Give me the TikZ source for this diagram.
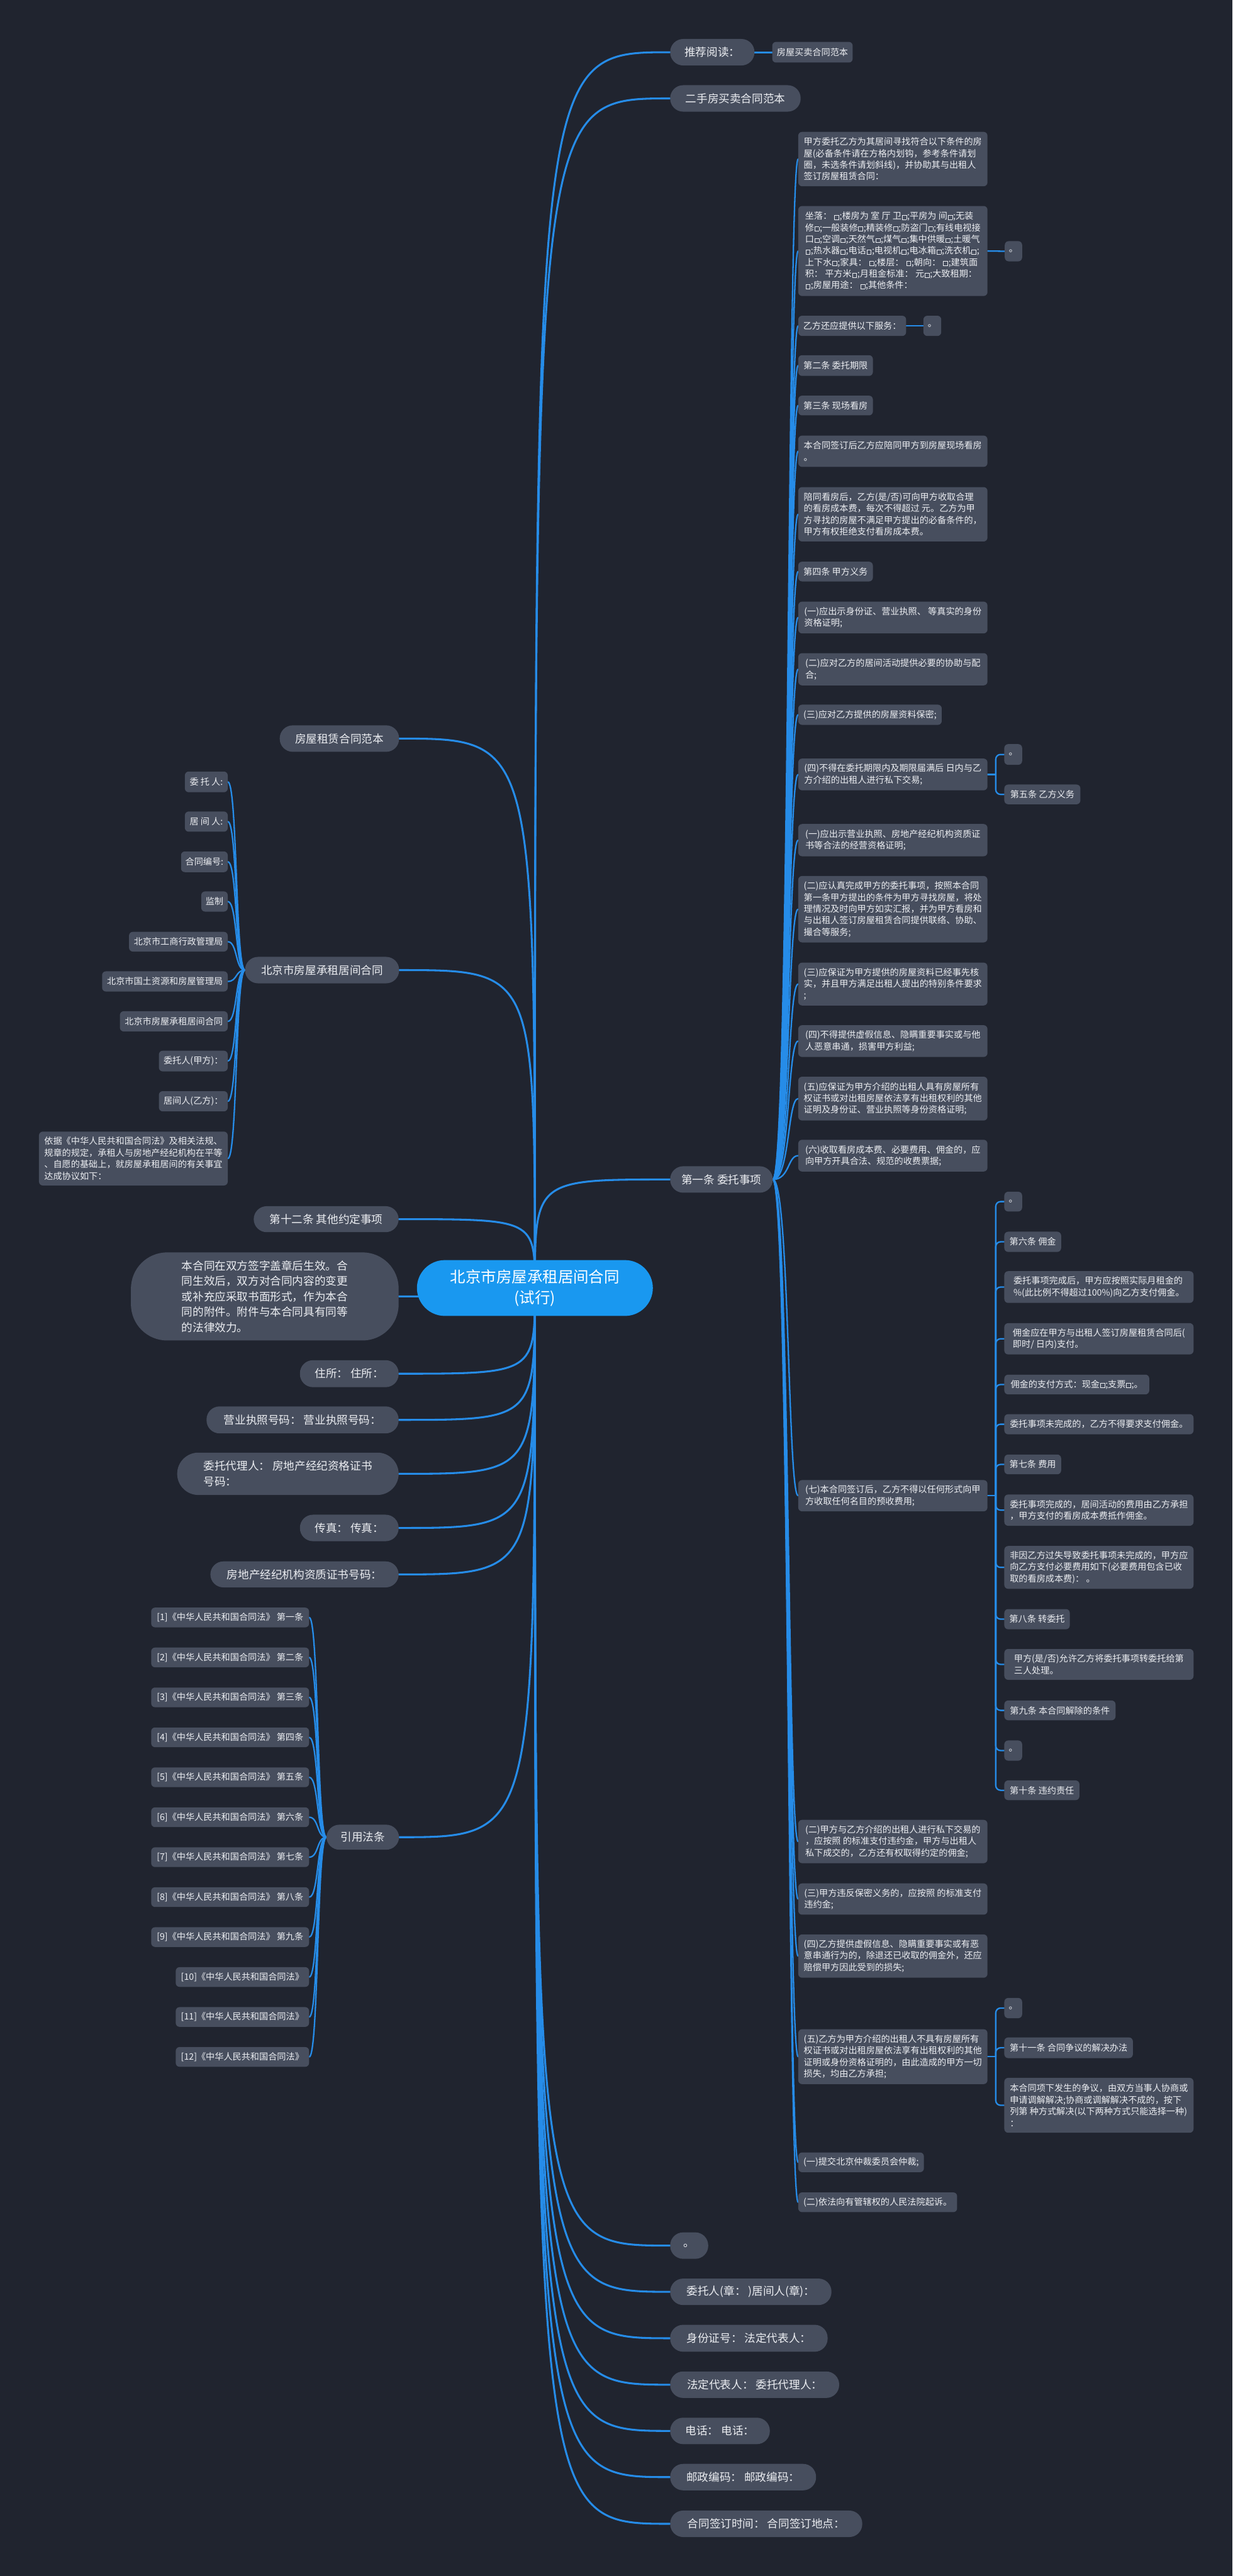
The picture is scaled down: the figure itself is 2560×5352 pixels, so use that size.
\documentclass[tikz,border=0pt]{standalone}
\usepackage{fontspec}
\setmainfont{Noto Sans CJK SC}
\usetikzlibrary{calc}
\definecolor{bgc}{RGB}{32,36,47}
\definecolor{nodefill}{RGB}{71,78,94}
\definecolor{lineblue}{RGB}{38,140,232}
\definecolor{rootblue}{RGB}{25,152,240}
\definecolor{txt}{RGB}{236,238,242}
\pgfdeclarelayer{back}\pgfdeclarelayer{edges}\pgfsetlayers{back,edges,main}
\newcommand\wsq{\kern1pt{\fboxsep=0pt\fboxrule=1pt\fbox{\rule{0pt}{8pt}\hspace{8pt}}}\kern1pt}
\newcommand\bn[7]{\node[#1,minimum width={#5-#3},minimum height={#6-#4}] (#2) at ({(#3+#5)/2},{(#4+#6)/2}) {#7};}
\tikzset{
 sm/.style={fill=nodefill,rounded corners=8pt,text=txt,font=\fontsize{18.5}{24}\selectfont,align=left,inner sep=0pt},
 pill/.style={fill=nodefill,rounded corners=27pt,text=txt,font=\fontsize{23}{32}\selectfont,align=left,inner sep=0pt},
 rootn/.style={fill=rootblue,rounded corners=58pt,text=white,font=\fontsize{32}{43}\selectfont,align=center,inner sep=0pt},
 edge/.style={draw=lineblue,line width=4pt,line cap=round},
 edgeb/.style={draw=lineblue,line width=3pt,line cap=round}
}
\begin{document}
\begin{tikzpicture}[x=1pt,y=-1pt]
\begin{pgfonlayer}{back}
\fill[bgc] (0,0) rectangle (2560,5352);
\end{pgfonlayer}
\useasboundingbox (0,0) rectangle (2560,5352);
% root
\bn{rootn}{root}{866}{2618}{1356}{2734}{北京市房屋承租居间合同\\(试行)}
% right top-level
\bn{pill}{r1}{1392}{81}{1567}{136}{推荐阅读：}
\bn{sm}{r1a}{1604}{87}{1771}{130}{房屋买卖合同范本}
\bn{pill}{r2}{1392}{177}{1663}{232}{二手房买卖合同范本}
\bn{pill}{r3}{1392}{2423}{1605}{2478}{第一条 委托事项}
\bn{pill}{r4}{1392}{4638}{1471}{4693}{。}
\bn{pill}{r5}{1392}{4734}{1727}{4789}{委托人(章：\ )居间人(章)：}
\bn{pill}{r6}{1392}{4830}{1719}{4886}{身份证号：\ 法定代表人：}
\bn{pill}{r7}{1392}{4927}{1743}{4982}{法定代表人：\ 委托代理人：}
\bn{pill}{r8}{1392}{5023}{1599}{5078}{电话：\ 电话：}
\bn{pill}{r9}{1392}{5119}{1695}{5174}{邮政编码：\ 邮政编码：}
\bn{pill}{r10}{1392}{5216}{1791}{5271}{合同签订时间：\ 合同签订地点：}
% left top-level
\bn{pill}{l1}{581}{1507}{829}{1562}{房屋租赁合同范本}
\bn{pill}{l2}{509}{1988}{829}{2043}{北京市房屋承租居间合同}
\bn{pill}{l3}{527}{2506}{828}{2560}{第十二条 其他约定事项}
\bn{pill,rounded corners=75pt}{l4}{272}{2602}{828}{2785}{本合同在双方签字盖章后生效。合\\同生效后，双方对合同内容的变更\\或补充应采取书面形式，作为本合\\同的附件。附件与本合同具有同等\\的法律效力。}
\bn{pill}{l5}{623}{2826}{828}{2882}{住所：\ 住所：}
\bn{pill}{l6}{429}{2922}{828}{2978}{营业执照号码：\ 营业执照号码：}
\bn{pill,rounded corners=44pt}{l7}{368}{3018}{828}{3106}{委托代理人：\ 房地产经纪资格证书\\号码：}
\bn{pill}{l8}{623}{3147}{828}{3202}{传真：\ 传真：}
\bn{pill}{l9}{437}{3244}{828}{3298}{房地产经纪机构资质证书号码：}
\bn{pill}{l10}{678}{3791}{829}{3843}{引用法条}
% children of l2
\bn{sm}{k1}{384}{1603}{473}{1646}{委 托 人:}
\bn{sm}{k2}{384}{1686}{473}{1728}{居 间 人:}
\bn{sm}{k3}{376}{1769}{473}{1812}{合同编号:}
\bn{sm}{k4}{418}{1852}{473}{1894}{监制}
\bn{sm}{k5}{268}{1936}{473}{1977}{北京市工商行政管理局}
\bn{sm}{k6}{212}{2018}{473}{2060}{北京市国土资源和房屋管理局}
\bn{sm}{k7}{249}{2101}{473}{2143}{北京市房屋承租居间合同}
\bn{sm}{k8}{330}{2183}{473}{2226}{委托人(甲方)：}
\bn{sm}{k9}{330}{2267}{473}{2309}{居间人(乙方)：}
\bn{sm}{k10}{81}{2351}{473}{2463}{依据《中华人民共和国合同法》及相关法规、\\规章的规定，承租人与房地产经纪机构在平等\\、自愿的基础上，就房屋承租居间的有关事宜\\达成协议如下：}
% law list
\bn{sm}{f1}{314}{3340}{642}{3381}{{}[1]《中华人民共和国合同法》 第一条}
\bn{sm}{f2}{314}{3423}{642}{3464}{{}[2]《中华人民共和国合同法》 第二条}
\bn{sm}{f3}{314}{3506}{642}{3547}{{}[3]《中华人民共和国合同法》 第三条}
\bn{sm}{f4}{314}{3589}{642}{3630}{{}[4]《中华人民共和国合同法》 第四条}
\bn{sm}{f5}{314}{3672}{642}{3713}{{}[5]《中华人民共和国合同法》 第五条}
\bn{sm}{f6}{314}{3755}{642}{3796}{{}[6]《中华人民共和国合同法》 第六条}
\bn{sm}{f7}{314}{3838}{642}{3879}{{}[7]《中华人民共和国合同法》 第七条}
\bn{sm}{f8}{314}{3921}{642}{3962}{{}[8]《中华人民共和国合同法》 第八条}
\bn{sm}{f9}{314}{4004}{642}{4045}{{}[9]《中华人民共和国合同法》 第九条}
\bn{sm}{f10}{365}{4087}{642}{4128}{{}[10]《中华人民共和国合同法》}
\bn{sm}{f11}{365}{4170}{642}{4211}{{}[11]《中华人民共和国合同法》}
\bn{sm}{f12}{365}{4253}{642}{4294}{{}[12]《中华人民共和国合同法》}
% children of r3
\bn{sm}{s1}{1658}{274}{2051}{387}{甲方委托乙方为其居间寻找符合以下条件的房\\屋(必备条件请在方格内划钩，参考条件请划\\圈，未选条件请划斜线)，并协助其与出租人\\签订房屋租赁合同：}
\bn{sm}{s2}{1658}{428}{2051}{615}{坐落：\ \wsq;楼房为 室 厅 卫\wsq;平房为 间\wsq;无装\\修\wsq;一般装修\wsq;精装修\wsq;防盗门\wsq;有线电视接\\口\wsq;空调\wsq;天然气\wsq;煤气\wsq;集中供暖\wsq;土暖气\\\wsq;热水器\wsq;电话\wsq;电视机\wsq;电冰箱\wsq;洗衣机\wsq;\\上下水\wsq;家具：\ \wsq;楼层：\ \wsq;朝向：\ \wsq;建筑面\\积：\ 平方米\wsq;月租金标准：\ 元\wsq;大致租期：\\\wsq;房屋用途：\ \wsq;其他条件：}
\bn{sm}{s3}{1658}{656}{1882}{698}{乙方还应提供以下服务：}
\bn{sm}{s4}{1658}{738}{1813}{781}{第二条 委托期限}
\bn{sm}{s5}{1658}{822}{1813}{863}{第三条 现场看房}
\bn{sm}{s6}{1658}{905}{2051}{970}{本合同签订后乙方应陪同甲方到房屋现场看房\\。}
\bn{sm}{s7}{1658}{1012}{2051}{1125}{陪同看房后，乙方(是/否)可向甲方收取合理\\的看房成本费，每次不得超过 元。乙方为甲\\方寻找的房屋不满足甲方提出的必备条件的，\\甲方有权拒绝支付看房成本费。}
\bn{sm}{s8}{1658}{1167}{1813}{1208}{第四条 甲方义务}
\bn{sm}{s9}{1658}{1250}{2051}{1316}{(一)应出示身份证、营业执照、 等真实的身份\\资格证明;}
\bn{sm}{s10}{1658}{1357}{2051}{1424}{(二)应对乙方的居间活动提供必要的协助与配\\合;}
\bn{sm}{s11}{1658}{1464}{1956}{1506}{(三)应对乙方提供的房屋资料保密;}
\bn{sm}{s12}{1658}{1576}{2051}{1642}{(四)不得在委托期限内及期限届满后 日内与乙\\方介绍的出租人进行私下交易;}
\bn{sm}{s13}{1658}{1712}{2051}{1779}{(一)应出示营业执照、房地产经纪机构资质证\\书等合法的经营资格证明;}
\bn{sm}{s14}{1658}{1820}{2051}{1958}{(二)应认真完成甲方的委托事项，按照本合同\\第一条甲方提出的条件为甲方寻找房屋，将处\\理情况及时向甲方如实汇报，并为甲方看房和\\与出租人签订房屋租赁合同提供联络、协助、\\撮合等服务;}
\bn{sm}{s15}{1658}{2000}{2051}{2089}{(三)应保证为甲方提供的房屋资料已经事先核\\实，并且甲方满足出租人提出的特别条件要求\\;}
\bn{sm}{s16}{1658}{2130}{2051}{2196}{(四)不得提供虚假信息、隐瞒重要事实或与他\\人恶意串通，损害甲方利益;}
\bn{sm}{s17}{1658}{2237}{2051}{2328}{(五)应保证为甲方介绍的出租人具有房屋所有\\权证书或对出租房屋依法享有出租权利的其他\\证明及身份证、营业执照等身份资格证明;}
\bn{sm}{s18}{1658}{2368}{2051}{2434}{(六)收取看房成本费、必要费用、佣金的，应\\向甲方开具合法、规范的收费票据;}
\bn{sm}{s19}{1658}{3075}{2051}{3140}{(七)本合同签订后，乙方不得以任何形式向甲\\方收取任何名目的预收费用;}
\bn{sm}{s20}{1658}{3781}{2051}{3871}{(二)甲方与乙方介绍的出租人进行私下交易的\\，应按照 的标准支付违约金，甲方与出租人\\私下成交的，乙方还有权取得约定的佣金;}
\bn{sm}{s21}{1658}{3913}{2051}{3978}{(三)甲方违反保密义务的，应按照 的标准支付\\违约金;}
\bn{sm}{s22}{1658}{4019}{2051}{4109}{(四)乙方提供虚假信息、隐瞒重要事实或有恶\\意串通行为的，除退还已收取的佣金外，还应\\赔偿甲方因此受到的损失;}
\bn{sm}{s23}{1658}{4216}{2051}{4330}{(五)乙方为甲方介绍的出租人不具有房屋所有\\权证书或对出租房屋依法享有出租权利的其他\\证明或身份资格证明的，由此造成的甲方一切\\损失，均由乙方承担;}
\bn{sm}{s24}{1658}{4472}{1919}{4513}{(一)提交北京仲裁委员会仲裁;}
\bn{sm}{s25}{1658}{4555}{1988}{4596}{(二)依法向有管辖权的人民法院起诉。}
% grandchildren
\bn{sm}{s2a}{2087}{501}{2123}{543}{。}
\bn{sm}{s3a}{1918}{656}{1955}{698}{。}
\bn{sm}{s12a}{2086}{1546}{2123}{1589}{。}
\bn{sm}{s12b}{2086}{1630}{2244}{1671}{第五条 乙方义务}
\bn{sm}{t1}{2086}{2476}{2123}{2517}{。}
\bn{sm}{t2}{2086}{2559}{2204}{2601}{第六条 佣金}
\bn{sm}{t3}{2086}{2641}{2479}{2707}{委托事项完成后，甲方应按照实际月租金的\\\%(此比例不得超过100\%)向乙方支付佣金。}
\bn{sm}{t4}{2086}{2749}{2479}{2814}{佣金应在甲方与出租人签订房屋租赁合同后(\\即时/ 日内)支付。}
\bn{sm}{t5}{2086}{2856}{2387}{2897}{佣金的支付方式：现金\wsq;支票\wsq;。}
\bn{sm}{t6}{2086}{2938}{2479}{2980}{委托事项未完成的，乙方不得要求支付佣金。}
\bn{sm}{t7}{2086}{3022}{2204}{3063}{第七条 费用}
\bn{sm}{t8}{2086}{3105}{2479}{3170}{委托事项完成的，居间活动的费用由乙方承担\\，甲方支付的看房成本费抵作佣金。}
\bn{sm}{t9}{2086}{3212}{2479}{3301}{非因乙方过失导致委托事项未完成的，甲方应\\向乙方支付必要费用如下(必要费用包含已收\\取的看房成本费)：\ 。}
\bn{sm}{t10}{2086}{3343}{2222}{3385}{第八条 转委托}
\bn{sm}{t11}{2086}{3426}{2479}{3490}{甲方(是/否)允许乙方将委托事项转委托给第\\三人处理。}
\bn{sm}{t12}{2086}{3533}{2317}{3574}{第九条 本合同解除的条件}
\bn{sm}{t13}{2086}{3616}{2123}{3658}{。}
\bn{sm}{t14}{2086}{3699}{2242}{3740}{第十条 违约责任}
\bn{sm}{u1}{2086}{4151}{2123}{4193}{。}
\bn{sm}{u2}{2086}{4233}{2353}{4276}{第十一条 合同争议的解决办法}
\bn{sm}{u3}{2086}{4317}{2479}{4431}{本合同项下发生的争议，由双方当事人协商或\\申请调解解决;协商或调解解决不成的，按下\\列第 种方式解决(以下两种方式只能选择一种)\\：}
% junction coordinates
\coordinate (j12) at ([xshift=17pt]s12.east);
\coordinate (j19) at ([xshift=17pt]s19.east);
\coordinate (j23) at ([xshift=17pt]s23.east);
% edges
\begin{pgfonlayer}{edges}
\foreach \n in {r1,r2,r3,r4,r5,r6,r7,r8,r9,r10}
  \draw[edge] (root.center) .. controls (root.center |- \n.west) .. (\n.west);
\foreach \n in {l1,l2,l3,l4,l5,l6,l7,l8,l9,l10}
  \draw[edge] (root.center) .. controls (root.center |- \n.east) .. (\n.east);
\draw[edge] (r1.east) -- (r1a.west);
\foreach \i in {1,...,25}
  \draw[edgeb] (r3.east) .. controls +(35,0) and +(-22,0) .. (s\i.west);
\foreach \i in {1,...,10}
  \draw[edgeb] (l2.west) .. controls +(-20,0) and +(20,0) .. (k\i.east);
\foreach \i in {1,...,12}
  \draw[edgeb] (l10.west) .. controls +(-20,0) and +(20,0) .. (f\i.east);
\draw[edgeb] (s2.east) -- (s2a.west);
\draw[edgeb] (s3.east) -- (s3a.west);
\draw[edgeb] (s12.east) -- (j12);
\draw[edgeb] (s19.east) -- (j19);
\draw[edgeb] (s23.east) -- (j23);
\foreach \c in {s12a,s12b}
  \draw[edgeb,rounded corners=10pt] (j12) |- (\c.west);
\foreach \c in {t1,t2,t3,t4,t5,t6,t7,t8,t9,t10,t11,t12,t13,t14}
  \draw[edgeb,rounded corners=10pt] (j19) |- (\c.west);
\foreach \c in {u1,u2,u3}
  \draw[edgeb,rounded corners=10pt] (j23) |- (\c.west);
\end{pgfonlayer}
\end{tikzpicture}
\end{document}
